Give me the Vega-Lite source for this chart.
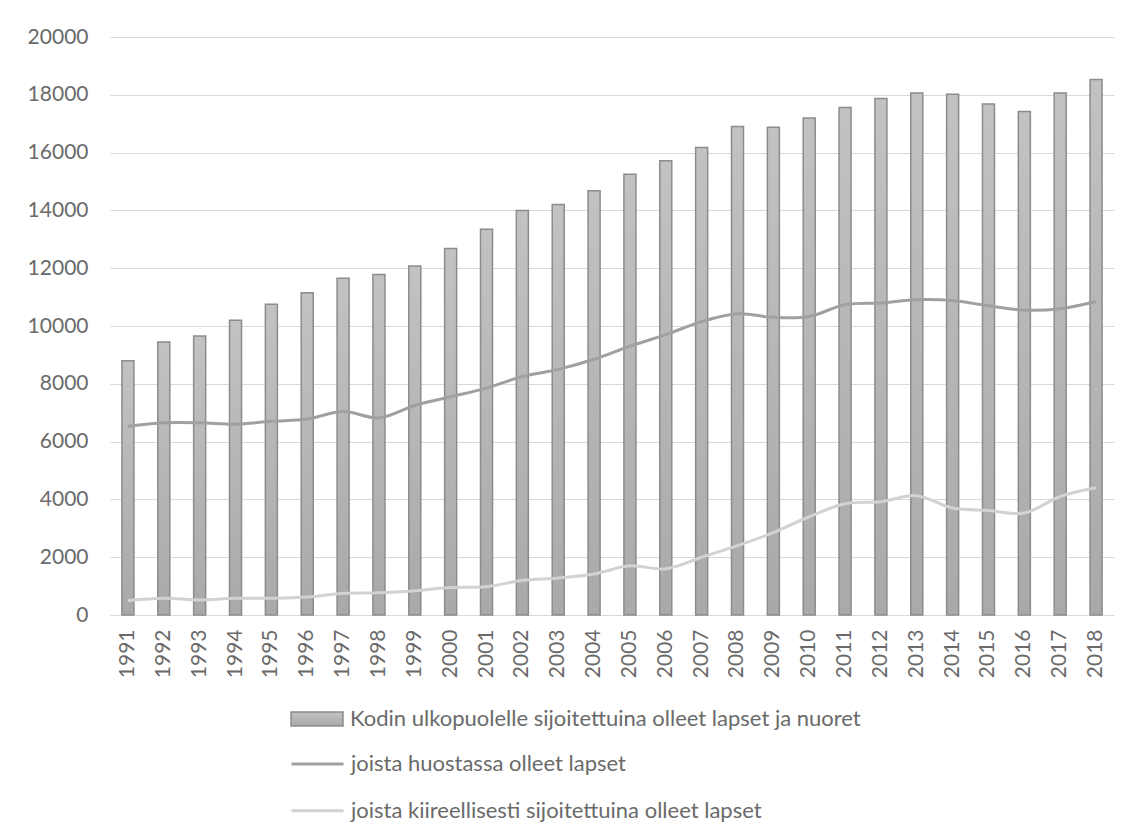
{
  "$schema": "https://vega.github.io/schema/vega-lite/v6.json",
  "autosize": "none",
  "width": 1004,
  "height": 578,
  "padding": {"left": 110, "top": 37, "right": 28, "bottom": 224},
  "background": "white",
  "config": {
    "view": {"stroke": null},
    "font": "Lato",
    "axis": {"labelFont": "Lato", "labelFontSize": 21, "labelColor": "#6a6a6a", "title": null},
    "legend": {"labelFont": "Lato", "labelFontSize": 22, "labelColor": "#6a6a6a", "padding": 0, "labelLimit": 0}
  },
  "data": {
    "values": [
      {"year": "1991", "total": 8800, "huostassa": 6530, "kiireellisesti": 500},
      {"year": "1992", "total": 9450, "huostassa": 6650, "kiireellisesti": 580},
      {"year": "1993", "total": 9650, "huostassa": 6650, "kiireellisesti": 520},
      {"year": "1994", "total": 10200, "huostassa": 6600, "kiireellisesti": 580},
      {"year": "1995", "total": 10750, "huostassa": 6700, "kiireellisesti": 580},
      {"year": "1996", "total": 11150, "huostassa": 6780, "kiireellisesti": 620},
      {"year": "1997", "total": 11650, "huostassa": 7040, "kiireellisesti": 750},
      {"year": "1998", "total": 11780, "huostassa": 6820, "kiireellisesti": 770},
      {"year": "1999", "total": 12080, "huostassa": 7250, "kiireellisesti": 840},
      {"year": "2000", "total": 12680, "huostassa": 7550, "kiireellisesti": 950},
      {"year": "2001", "total": 13350, "huostassa": 7850, "kiireellisesti": 980},
      {"year": "2002", "total": 14000, "huostassa": 8250, "kiireellisesti": 1200},
      {"year": "2003", "total": 14200, "huostassa": 8500, "kiireellisesti": 1280},
      {"year": "2004", "total": 14680, "huostassa": 8850, "kiireellisesti": 1420},
      {"year": "2005", "total": 15250, "huostassa": 9300, "kiireellisesti": 1700},
      {"year": "2006", "total": 15720, "huostassa": 9700, "kiireellisesti": 1600},
      {"year": "2007", "total": 16180, "huostassa": 10150, "kiireellisesti": 2000},
      {"year": "2008", "total": 16900, "huostassa": 10420, "kiireellisesti": 2400},
      {"year": "2009", "total": 16880, "huostassa": 10300, "kiireellisesti": 2850},
      {"year": "2010", "total": 17200, "huostassa": 10330, "kiireellisesti": 3400},
      {"year": "2011", "total": 17560, "huostassa": 10740, "kiireellisesti": 3850},
      {"year": "2012", "total": 17870, "huostassa": 10800, "kiireellisesti": 3920},
      {"year": "2013", "total": 18060, "huostassa": 10910, "kiireellisesti": 4130},
      {"year": "2014", "total": 18020, "huostassa": 10880, "kiireellisesti": 3700},
      {"year": "2015", "total": 17680, "huostassa": 10700, "kiireellisesti": 3620},
      {"year": "2016", "total": 17420, "huostassa": 10550, "kiireellisesti": 3530},
      {"year": "2017", "total": 18060, "huostassa": 10600, "kiireellisesti": 4100},
      {"year": "2018", "total": 18530, "huostassa": 10850, "kiireellisesti": 4400}
    ]
  },
  "encoding": {
    "x": {
      "field": "year", "type": "nominal",
      "scale": {"paddingInner": 0.665, "paddingOuter": 0.333},
      "axis": {"labelAngle": 270, "ticks": false, "labelPadding": 14, "domainColor": "#d9d9d9", "domainWidth": 1.2, "grid": false}
    }
  },
  "layer": [
    {
      "mark": {
        "type": "bar",
        "fill": {"gradient": "linear", "x1": 0, "y1": 0, "x2": 0, "y2": 1, "stops": [{"offset": 0, "color": "#c2c2c2"}, {"offset": 1, "color": "#a9a9a9"}]},
        "strokeWidth": 1.5
      },
      "encoding": {
        "y": {
          "field": "total", "type": "quantitative",
          "scale": {"domain": [0, 20000], "nice": false},
          "axis": {"values": [0, 2000, 4000, 6000, 8000, 10000, 12000, 14000, 16000, 18000, 20000], "format": "d", "ticks": false, "domain": false, "labelPadding": 22, "gridColor": "#d9d9d9", "gridWidth": 1.2}
        },
        "stroke": {
          "datum": "Kodin ulkopuolelle sijoitettuina olleet lapset ja nuoret",
          "scale": {"range": ["#8c8c8c"]},
          "legend": {
            "title": null, "orient": "none", "legendX": 180, "legendY": 672,
            "symbolType": "M-1,-0.27H1V0.27H-1Z", "symbolSize": 2704, "symbolStrokeWidth": 1.5,
            "symbolFillColor": "#b5b5b5", "clipHeight": 20, "labelOffset": 6,
            "encode": {"symbols": {"update": {"fill": {"value": {"gradient": "linear", "x1": 0, "y1": 0, "x2": 0, "y2": 1, "stops": [{"offset": 0, "color": "#c2c2c2"}, {"offset": 1, "color": "#a9a9a9"}]}}}}}
          }
        }
      }
    },
    {
      "transform": [{"fold": ["huostassa", "kiireellisesti"], "as": ["sarja", "arvo"]}],
      "mark": {"type": "line", "strokeWidth": 3, "interpolate": "catmull-rom"},
      "encoding": {
        "y": {"field": "arvo", "type": "quantitative"},
        "stroke": {
          "field": "sarja", "type": "nominal",
          "scale": {"domain": ["huostassa", "kiireellisesti"], "range": ["#a0a0a0", "#d2d2d2"]},
          "legend": {
            "title": null, "orient": "none", "legendX": 180, "legendY": 717,
            "symbolType": "stroke", "symbolSize": 2704, "symbolStrokeWidth": 3,
            "clipHeight": 20, "rowPadding": 24.7, "labelOffset": 6,
            "labelExpr": "datum.label == 'huostassa' ? 'joista huostassa olleet lapset' : 'joista kiireellisesti sijoitettuina olleet lapset'"
          }
        }
      }
    }
  ],
  "resolve": {"scale": {"stroke": "independent"}}
}
